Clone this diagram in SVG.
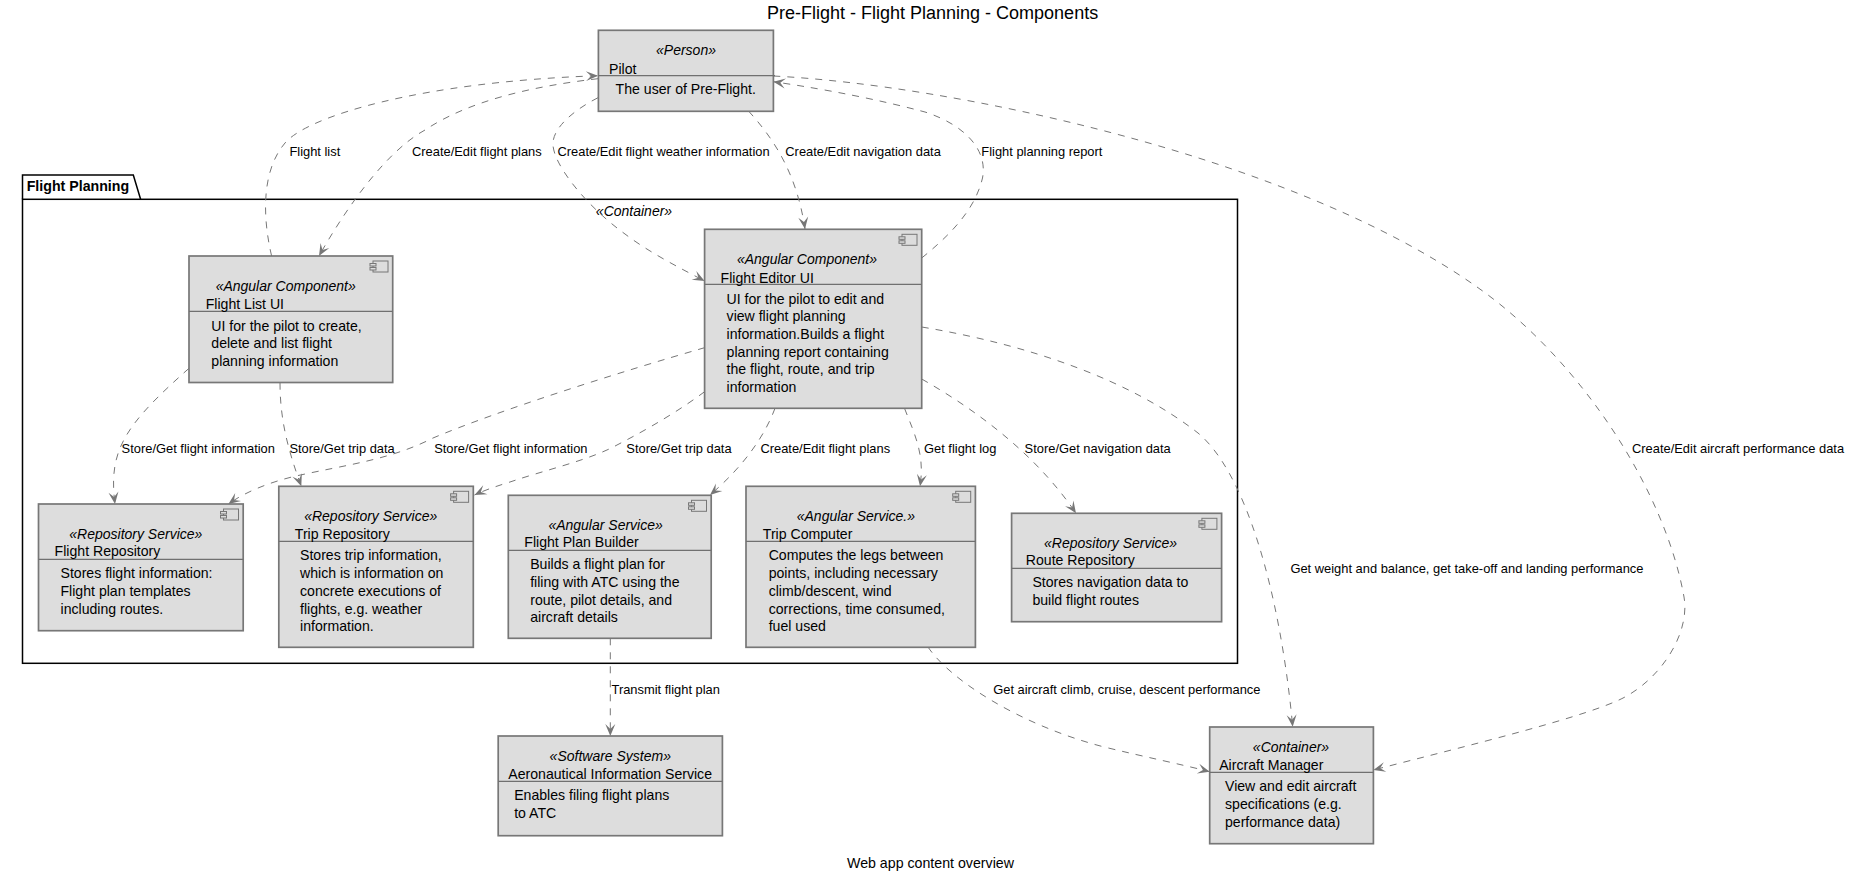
<svg xmlns="http://www.w3.org/2000/svg" width="1855" height="880" viewBox="0 0 1855 880">
<style>
text{font-family:"Liberation Sans",Arial,sans-serif;font-size:14.1px;fill:#000}
.t{font-size:18px}
.s{font-style:italic;text-anchor:middle;font-size:14px}
.l{font-size:12.9px}
.f{font-size:14.2px}
.b{fill:#ddd;stroke:#777;stroke-width:1.7}
.d{stroke:#707070;stroke-width:1.2;fill:none}
.e{fill:none;stroke:#777;stroke-width:1;stroke-dasharray:7 7}
.p{fill:#fff;stroke:#000;stroke-width:1.5}
.i{fill:#ddd;stroke:#777;stroke-width:1}
</style>
<defs>
<marker id="a" markerUnits="userSpaceOnUse" markerWidth="13" markerHeight="12" refX="12" refY="6" orient="auto" overflow="visible"><path d="M0,1L12,6L0,11L5,6Z" fill="#777"/></marker>
<g id="ico"><rect class="i" x="3" y="0" width="15" height="11"/><rect class="i" x="0" y="2.5" width="6" height="2.5"/><rect class="i" x="0" y="6.5" width="6" height="2.5"/></g>
</defs>
<rect width="1855" height="880" fill="#fff"/>
<text class="t" x="767" y="19">Pre-Flight - Flight Planning - Components</text>
<g id="pkg-flight-planning">
<path class="p" d="M22.5,199.3V175H133.3L140.6,199.3"/>
<rect class="p" x="22.5" y="199.3" width="1215" height="464"/>
<text x="26.7" y="191" font-weight="bold" style="font-size:14.2px">Flight Planning</text>
<text class="s" x="634" y="215.7">«Container»</text>
</g>
<g id="connectors">
<path class="e" marker-end="url(#a)" d="M271.6,256C262,215 262,170 285,143C308,116 420,82 598,75.7"/>
<path class="e" marker-end="url(#a)" d="M598,78.7C535,86 470,100 425,130C385,152 345,210 319,256"/>
<path class="e" marker-end="url(#a)" d="M598,97.7C570,112 552,130 553,145C554,165 585,205 625,234C650,253 680,268 704.6,281"/>
<path class="e" marker-end="url(#a)" d="M748.5,111C775,140 797,175 805,229"/>
<path class="e" marker-end="url(#a)" d="M921.7,258C950,235 975,210 982.5,178C988,150 965,125 925,112C880,100 830,90 773.4,81.7"/>
<path class="e" marker-end="url(#a)" d="M773.4,76C950,85 1290,155 1476.6,286.7C1580,359 1665,490 1684,597C1690,630 1665,675 1625,697C1590,716 1470,745 1373.4,770"/>
<path class="e" marker-end="url(#a)" d="M189,368.3C125,425 108,450 115,504"/>
<path class="e" marker-end="url(#a)" d="M280,382.5C280,420 288,450 301.3,486.3"/>
<path class="e" marker-end="url(#a)" d="M704.6,347.7C620,372 500,410 433,438C390,460 345,465 296,476C270,482 245,492 228.4,504"/>
<path class="e" marker-end="url(#a)" d="M704.6,391.7C680,410 650,428 617,445C590,460 545,470 510,482C497,486 485,490 474.5,495"/>
<path class="e" marker-end="url(#a)" d="M775,408.3C765,435 745,465 710,495"/>
<path class="e" marker-end="url(#a)" d="M904.5,408.3C915,435 925,455 920,486.3"/>
<path class="e" marker-end="url(#a)" d="M921.7,379C985,415 1040,460 1076,513.3"/>
<path class="e" marker-end="url(#a)" d="M921.7,327C1030,345 1130,380 1198,433C1245,472 1280,590 1292.7,726.7"/>
<path class="e" marker-end="url(#a)" d="M928,647C950,680 1020,725 1103,746.7C1145,757 1180,764 1209.7,771.7"/>
<path class="e" marker-end="url(#a)" d="M610.3,638.3V736"/>
<g id="connector-labels">
<text class="l" x="289.4" y="155.7">Flight list</text>
<text class="l" x="412" y="155.7">Create/Edit flight plans</text>
<text class="l" x="557.5" y="155.7">Create/Edit flight weather information</text>
<text class="l" x="785.3" y="155.7">Create/Edit navigation data</text>
<text class="l" x="981.3" y="155.7">Flight planning report</text>
<text class="l" x="121.6" y="452.7">Store/Get flight information</text>
<text class="l" x="289.4" y="452.7">Store/Get trip data</text>
<text class="l" x="434.2" y="452.7">Store/Get flight information</text>
<text class="l" x="626.3" y="452.7">Store/Get trip data</text>
<text class="l" x="760.4" y="452.7">Create/Edit flight plans</text>
<text class="l" x="924" y="452.7">Get flight log</text>
<text class="l" x="1024.6" y="452.7">Store/Get navigation data</text>
<text class="l" x="1632" y="452.7">Create/Edit aircraft performance data</text>
<text class="l" x="1290.4" y="572.7">Get weight and balance, get take-off and landing performance</text>
<text class="l" x="611.5" y="694">Transmit flight plan</text>
<text class="l" x="993.2" y="694">Get aircraft climb, cruise, descent performance</text>
</g>
</g>
<g id="pilot">
<rect class="b" x="598.4" y="30.3" width="175" height="81"/><path class="d" d="M598.4,75.7H775"/>
<text class="s" x="686" y="55">«Person»</text><text x="609" y="73.5">Pilot</text><text x="615.6" y="94">The user of Pre-Flight.</text>
</g>
<g id="flight-list-ui">
<rect class="b" x="189" y="256" width="203.7" height="126.5"/><path class="d" d="M189,311.3H392.7"/><use href="#ico" x="370" y="261"/>
<text class="s" x="285.7" y="291.4">«Angular Component»</text><text x="205.7" y="308.7">Flight List UI</text>
<text x="211.3" y="331">UI for the pilot to create,</text><text x="211.3" y="348.3">delete and list flight</text><text x="211.3" y="365.7">planning information</text>
</g>
<g id="flight-editor-ui">
<rect class="b" x="704.6" y="229.3" width="217.1" height="179"/><path class="d" d="M704.6,284.3H921.7"/><use href="#ico" x="899" y="234.3"/>
<text class="s" x="807" y="263.7">«Angular Component»</text><text x="720.6" y="282.7">Flight Editor UI</text>
<text x="726.6" y="303.5">UI for the pilot to edit and</text><text x="726.6" y="321">view flight planning</text><text x="726.6" y="339">information.Builds a flight</text><text x="726.6" y="356.5">planning report containing</text><text x="726.6" y="374">the flight, route, and trip</text><text x="726.6" y="391.5">information</text>
</g>
<g id="flight-repository">
<rect class="b" x="38.5" y="504" width="204.7" height="126.7"/><path class="d" d="M38.5,559.3H243.2"/><use href="#ico" x="220.5" y="509"/>
<text class="s" x="135.8" y="539">«Repository Service»</text><text x="54.6" y="556.3">Flight Repository</text>
<text x="60.5" y="578.3">Stores flight information:</text><text x="60.5" y="596.3">Flight plan templates</text><text x="60.5" y="613.7">including routes.</text>
</g>
<g id="trip-repository">
<rect class="b" x="278.8" y="486.3" width="194.5" height="161"/><path class="d" d="M278.8,541.3H473.3"/><use href="#ico" x="450.6" y="491.3"/>
<text class="s" x="370.7" y="521">«Repository Service»</text><text x="294.8" y="539.3">Trip Repository</text>
<text x="300" y="560.3">Stores trip information,</text><text x="300" y="578.3">which is information on</text><text x="300" y="596.3">concrete executions of</text><text x="300" y="613.7">flights, e.g. weather</text><text x="300" y="631">information.</text>
</g>
<g id="flight-plan-builder">
<rect class="b" x="508.3" y="495.3" width="202.9" height="143"/><path class="d" d="M508.3,550.3H711.2"/><use href="#ico" x="688.5" y="500.3"/>
<text class="s" x="605.6" y="530">«Angular Service»</text><text x="524.3" y="547.3">Flight Plan Builder</text>
<text x="530.2" y="569.3">Builds a flight plan for</text><text x="530.2" y="587">filing with ATC using the</text><text x="530.2" y="604.5">route, pilot details, and</text><text x="530.2" y="622">aircraft details</text>
</g>
<g id="trip-computer">
<rect class="b" x="746" y="486.3" width="229.4" height="161"/><path class="d" d="M746,541.3H975.4"/><use href="#ico" x="952.7" y="491.3"/>
<text class="s" x="855.9" y="521">«Angular Service.»</text><text x="762.8" y="539.3">Trip Computer</text>
<text x="768.7" y="560.3">Computes the legs between</text><text x="768.7" y="578.3">points, including necessary</text><text x="768.7" y="596.3">climb/descent, wind</text><text x="768.7" y="613.7">corrections, time consumed,</text><text x="768.7" y="631">fuel used</text>
</g>
<g id="route-repository">
<rect class="b" x="1011.6" y="513.3" width="210" height="108.4"/><path class="d" d="M1011.6,568.3H1221.6"/><use href="#ico" x="1198.9" y="518.3"/>
<text class="s" x="1110.6" y="548">«Repository Service»</text><text x="1025.8" y="565.3">Route Repository</text>
<text x="1032.4" y="587.3">Stores navigation data to</text><text x="1032.4" y="605">build flight routes</text>
</g>
<g id="aeronautical-information-service">
<rect class="b" x="498.2" y="736" width="224.2" height="99.7"/><path class="d" d="M498.2,781.3H722.4"/>
<text class="s" x="610.3" y="761">«Software System»</text><text x="508.3" y="779.3">Aeronautical Information Service</text>
<text x="514.2" y="800.3">Enables filing flight plans</text><text x="514.2" y="818.3">to ATC</text>
</g>
<g id="aircraft-manager">
<rect class="b" x="1209.7" y="727" width="163.7" height="116.7"/><path class="d" d="M1209.7,772.3H1373.4"/>
<text class="s" x="1291" y="752">«Container»</text><text x="1219.2" y="770">Aircraft Manager</text>
<text x="1225" y="791">View and edit aircraft</text><text x="1225" y="809.3">specifications (e.g.</text><text x="1225" y="827.3">performance data)</text>
</g>
<text class="f" x="847" y="867.7">Web app content overview</text>
</svg>
